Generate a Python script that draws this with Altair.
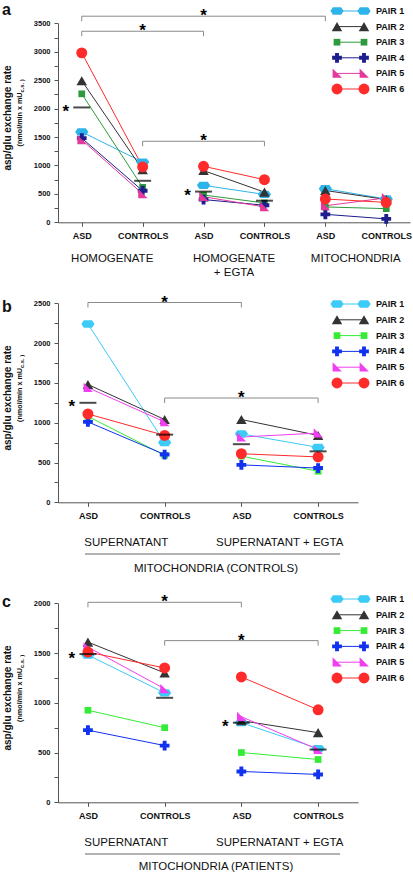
import json
import altair as alt
import pandas as pd

FONT = "Liberation Sans"
W, H = 413, 875

# ---------------- shared series info ----------------
pairs = ["PAIR 1", "PAIR 2", "PAIR 3", "PAIR 4", "PAIR 5", "PAIR 6"]
colors_a = ["#2db4ea", "#333333", "#2f9a3c", "#1e1e8c", "#e4389a", "#ff2b2b"]
colors_bc = ["#3ccaf7", "#333333", "#35ec35", "#1232f0", "#f03ef0", "#ff2b2b"]
HEX = "M-1,0L-0.62,-0.55L0.62,-0.55L1,0L0.62,0.55L-0.62,0.55Z"
WEDGE = "M-0.9,-1L1,0.9L-0.9,0.9Z"
pair_shapes = [HEX, "triangle-up", "square", "cross", WEDGE, "circle"]
pair_sizes = [175, 110, 45, 95, 95, 120]

# ---------------- panel a ----------------
a_ticks = ["ASD", "CONTROLS", "ASD", "CONTROLS", "ASD", "CONTROLS"]
a_groups = ["HOMOGENATE", "HOMOGENATE\n+ EGTA", "MITOCHONDRIA"]
a_hom_asd = [1590, 2490, 2260, 1480, 1450, 2980]
a_hom_ctrl = [1060, 925, 615, 555, 500, 975]
a_egta_asd = [650, 910, 480, 400, 450, 985]
a_egta_ctrl = [490, 530, 340, 300, 270, 750]
a_mito_asd = [590, 560, 270, 140, 290, 410]
a_mito_ctrl = [410, 400, 240, 60, 430, 350]
a_mean_val = [2020, 730, 540, 380]
a_mean_star = [True, False, True, False]
a_br_from = [0, 0, 1]
a_br_to = [4, 2, 3]
a_br_level = [3625, 3360, 1425]

# ---------------- panel b ----------------
b_ticks = ["ASD", "CONTROLS", "ASD", "CONTROLS"]
b_groups = ["SUPERNATANT", "SUPERNATANT + EGTA"]
b_sup_asd = [2240, 1480, 1080, 1010, 1440, 1110]
b_sup_ctrl = [750, 1040, 590, 600, 1010, 840]
b_egta_asd = [860, 1040, 580, 470, 820, 610]
b_egta_ctrl = [690, 840, 390, 430, 870, 570]
b_mean_val = [1250, 850, 730, 640]
b_mean_star = [True, False, False, False]
b_br_from = [0, 1]
b_br_to = [2, 3]
b_br_level = [2510, 1310]
b_footer = "MITOCHONDRIA (CONTROLS)"

# ---------------- panel c ----------------
c_ticks = ["ASD", "CONTROLS", "ASD", "CONTROLS"]
c_groups = ["SUPERNATANT", "SUPERNATANT + EGTA"]
c_sup_asd = [1480, 1610, 925, 725, 1560, 1510]
c_sup_ctrl = [1100, 1300, 750, 570, 1140, 1350]
c_egta_asd = [800, 820, 500, 310, 860, 1260]
c_egta_ctrl = [540, 700, 430, 280, 530, 930]
c_mean_val = [1490, 1050, 800, 530]
c_mean_star = [True, False, True, False]
c_br_from = [0, 1]
c_br_to = [2, 3]
c_br_level = [2010, 1625]
c_footer = "MITOCHONDRIA (PATIENTS)"

# ---------------- encodings shared ----------------
ckeys = [k + str(i) for k in "abc" for i in range(6)]
C = alt.Color("ck:N", scale=alt.Scale(domain=ckeys, range=colors_a + colors_bc + colors_bc), legend=None)
S = alt.Shape("pair:N", scale=alt.Scale(domain=pairs, range=pair_shapes), legend=None)
Z = alt.Size("pair:N", scale=alt.Scale(type="ordinal", domain=pairs, range=pair_sizes), legend=None)

STAR_SIZE = 17


def panel(key, ticks, groups, columns, mean_val, mean_star, br_from, br_to, br_level, cfg):
    ymax = cfg["ymax"]
    yr = cfg["yrange"]
    xr = cfg["xrange"]
    rows = []
    for xi, col in enumerate(columns):
        for pi, v in enumerate(col):
            rows.append({"xi": xi, "v": v, "pair": pairs[pi], "ck": key + str(pi), "seg": f"{pi}_{xi // 2}"})
    pts = pd.DataFrame(rows)

    xscale = alt.Scale(domain=cfg["xdom"], range=xr, nice=False, zero=False)
    yscale = alt.Scale(domain=[0, ymax], range=yr, nice=False, zero=False)
    xaxis = alt.Axis(orient="bottom", offset=yr[0] - H, values=list(range(len(ticks))),
                     labelExpr=json.dumps(ticks) + "[datum.value]", title=None, grid=False,
                     tickSize=4, labelPadding=5, labelFont=FONT, labelFontSize=9, labelFontWeight="bold",
                     labelColor="#111", domainColor="#555", tickColor="#555", labelFlush=False,
                     labelOverlap=False, labelBound=False)
    yaxis = alt.Axis(orient="left", offset=-xr[0], values=list(range(0, ymax + 1, 250)), format="d",
                     labelExpr="datum.value % 500 === 0 ? datum.label : ''", title=None, grid=False,
                     tickSize=4, labelPadding=4, labelFont=FONT, labelFontSize=7.5, labelFontWeight="bold",
                     labelColor="#111", domainColor="#555", tickColor="#555", labelFlush=False,
                     labelOverlap=False, labelBound=False)

    def X(f):
        return alt.X(f, type="quantitative", scale=xscale, axis=xaxis)

    def Y(f):
        return alt.Y(f, type="quantitative", scale=yscale, axis=yaxis)

    lines = alt.Chart(pts).mark_line(strokeWidth=1).encode(x=X("xi"), y=Y("v"), color=C, detail="seg:N")
    points = alt.Chart(pts).mark_point(filled=True, opacity=1).encode(
        x=X("xi"), y=Y("v"), color=C, shape=S, size=Z)

    means = pd.DataFrame({"xi": list(range(len(mean_val))), "v": mean_val, "star": mean_star})
    mticks = alt.Chart(means).mark_tick(orient="horizontal", size=17, thickness=2, color="black").encode(
        x=X("xi"), y=Y("v"))
    mstars = alt.Chart(means[means["star"]]).mark_text(
        text="*", dx=-16, dy=4.5, fontSize=STAR_SIZE, fontWeight="bold", font=FONT, color="black").encode(
        x=X("xi"), y=Y("v"))

    drop = 5 * ymax / (yr[0] - yr[1])
    br = pd.DataFrame({"b1": br_from, "b2": br_to, "bv": br_level})
    br["mid"] = (br["b1"] + br["b2"]) / 2
    ends = pd.DataFrame({"xe": br_from + br_to, "bv": br_level + br_level})
    ends["bv2"] = ends["bv"] - drop
    bline = alt.Chart(br).mark_rule(color="#8a8a8a", strokeWidth=1).encode(
        x=X("b1"), x2=alt.X2("b2"), y=Y("bv"))
    bends = alt.Chart(ends).mark_rule(color="#8a8a8a", strokeWidth=1).encode(
        x=X("xe"), y=Y("bv"), y2=alt.Y2("bv2"))
    bstar = alt.Chart(br).mark_text(text="*", dy=0, fontSize=STAR_SIZE, fontWeight="bold", font=FONT,
                                    color="black").encode(x=X("mid"), y=Y("bv"))

    gdf = pd.DataFrame({"gx": [2 * i + 0.5 for i in range(len(groups))], "gl": groups})
    glab = alt.Chart(gdf).mark_text(font=FONT, fontSize=11.5, baseline="alphabetic", align="center",
                                    lineBreak="\n", lineHeight=14, color="#111").encode(
        x=X("gx"), y=alt.value(cfg["group_y"]), text="gl:N")

    return alt.layer(lines, points, mticks, mstars, bline, bends, bstar, glab)


def legend(key, y0, y1):
    df = pd.DataFrame({"pair": pairs, "ck": [key + str(i) for i in range(6)], "x0": 0, "x1": 1})
    xs = alt.Scale(domain=[0, 1], range=[337, 364], nice=False, zero=False)
    ys = alt.Scale(type="point", domain=pairs, range=[y0, y1], padding=0)
    Yl = alt.Y("pair:N", scale=ys, axis=None)
    base = alt.Chart(df)
    rule = base.mark_rule(strokeWidth=1).encode(x=alt.X("x0:Q", scale=xs, axis=None), x2=alt.X2("x1"),
                                                y=Yl, color=C)
    p0 = base.mark_point(filled=True, opacity=1).encode(x=alt.X("x0:Q", scale=xs, axis=None), y=Yl,
                                                        color=C, shape=S, size=Z)
    p1 = base.mark_point(filled=True, opacity=1).encode(x=alt.X("x1:Q", scale=xs, axis=None), y=Yl,
                                                        color=C, shape=S, size=Z)
    txt = base.mark_text(align="left", dx=12, fontWeight="bold", fontSize=9, font=FONT, baseline="middle",
                         color="#111").encode(x=alt.X("x1:Q", scale=xs, axis=None), y=Yl, text="pair:N")
    return alt.layer(rule, p0, p1, txt)


def note(s, x, y, size, bold=False, angle=0, align="center", baseline="alphabetic"):
    return alt.Chart(alt.Data(values=[{}])).mark_text(
        text=s, fontSize=size, fontWeight="bold" if bold else "normal", font=FONT, angle=angle,
        align=align, baseline=baseline, color="#111").encode(x=alt.value(x), y=alt.value(y))


def hline(x1, x2, y):
    return alt.Chart(alt.Data(values=[{}])).mark_rule(color="#999", strokeWidth=1.5).encode(
        x=alt.value(x1), x2=alt.value(x2), y=alt.value(y))


cfg_a = dict(ymax=3500, yrange=[222.3, 23.3], xdom=[-0.39, 5.39], xrange=[58, 410], group_y=262)
cfg_b = dict(ymax=2500, yrange=[502.3, 303.3], xdom=[-0.39, 3.52], xrange=[58, 358], group_y=546)
cfg_c = dict(ymax=2000, yrange=[802.3, 603.3], xdom=[-0.39, 3.52], xrange=[58, 358], group_y=846)

pA = panel("a", a_ticks, a_groups, [a_hom_asd, a_hom_ctrl, a_egta_asd, a_egta_ctrl, a_mito_asd, a_mito_ctrl],
           a_mean_val, a_mean_star, a_br_from, a_br_to, a_br_level, cfg_a)
pB = panel("b", b_ticks, b_groups, [b_sup_asd, b_sup_ctrl, b_egta_asd, b_egta_ctrl],
           b_mean_val, b_mean_star, b_br_from, b_br_to, b_br_level, cfg_b)
pC = panel("c", c_ticks, c_groups, [c_sup_asd, c_sup_ctrl, c_egta_asd, c_egta_ctrl],
           c_mean_val, c_mean_star, c_br_from, c_br_to, c_br_level, cfg_c)

notes = []
for letter, ly, tc, sb in [("a", 15, 118, 92.5), ("b", 312, 398, 368), ("c", 607, 698, 668)]:
    notes.append(note(letter, 2, ly, 16, bold=True, align="left"))
    notes.append(note("asp/glu exchange rate", 8, tc, 10, bold=True, angle=270, baseline="middle"))
    notes.append(note("(nmol/min x mU", 19.5, sb, 7.2, bold=True, angle=270, align="right", baseline="middle"))
    notes.append(note("c.s. )", 21.5, sb, 5.8, bold=True, angle=270, align="left", baseline="middle"))
notes.append(hline(85, 340, 554))
notes.append(note(b_footer, 216, 572, 11.5))
notes.append(hline(85, 340, 854))
notes.append(note(c_footer, 216, 870, 11.5))

chart = alt.layer(
    pA, pB, pC,
    legend("a", 11, 89), legend("b", 304, 383), legend("c", 599, 678),
    *notes
).resolve_scale(x="independent", y="independent").properties(
    width=W, height=H, autosize=alt.AutoSizeParams(type="none"), padding=0, background="white"
).configure_view(stroke=None)

chart.save("out.html", embed_options={"renderer": "svg", "actions": False})
